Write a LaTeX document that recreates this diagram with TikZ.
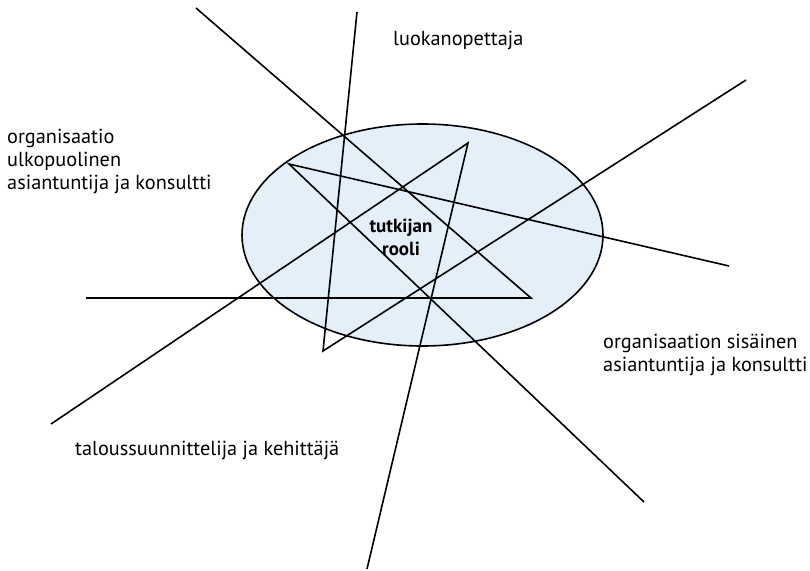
\documentclass[tikz,border=0pt]{standalone}
\usepackage{fontspec}
\setmainfont{PT Sans}
\definecolor{rolefill}{RGB}{228,239,250}
\usetikzlibrary{positioning}

\tikzset{
    star line/.style={line width=1.6pt, black},
    role label/.style={font=\fontsize{20.3}{23}\selectfont, align=left, inner sep=0pt}
}

\begin{document}
\begin{tikzpicture}[x=1pt, y=-1pt]
    \useasboundingbox (0,0) rectangle (810,570);

    % Ellipse
    \draw[line width=1.6pt, fill=rolefill] (422.5,235) ellipse [x radius=180.5, y radius=111];
    \node[font=\fontsize{19}{23}\selectfont\bfseries, align=center, inner sep=0pt] (rooli) at (401,237) {tutkijan\\rooli};

    % Vertices and free ends
    \coordinate (pA) at (531,298);
    \coordinate (pB) at (289,164);
    \coordinate (pC) at (323,351);
    \coordinate (pD) at (468,143);
    \coordinate (eA1) at (196,8);
    \coordinate (eA2) at (86,298);
    \coordinate (eB1) at (729,266);
    \coordinate (eB2) at (644,502);
    \coordinate (eC1) at (357,12);
    \coordinate (eC2) at (746,80);
    \coordinate (eD1) at (51,424);
    \coordinate (eD2) at (367,569);

    % Lines
    \draw[star line] (eA1) -- (pA) -- (eA2);
    \draw[star line] (eB1) -- (pB) -- (eB2);
    \draw[star line] (eC1) -- (pC) -- (eC2);
    \draw[star line] (eD1) -- (pD) -- (eD2);

    % Labels
    \node[role label, anchor=west] (opettaja) at (393,40) {luokanopettaja};
    \node[role label, anchor=west] (ulko) at (7,161) {organisaatio\\ulkopuolinen\\asiantuntija ja konsultti};
    \node[role label, anchor=west] (sisa) at (603,355) {organisaation sisäinen\\asiantuntija ja konsultti};
    \node[role label, anchor=west] (talous) at (75,450) {taloussuunnittelija ja kehittäjä};
\end{tikzpicture}
\end{document}
